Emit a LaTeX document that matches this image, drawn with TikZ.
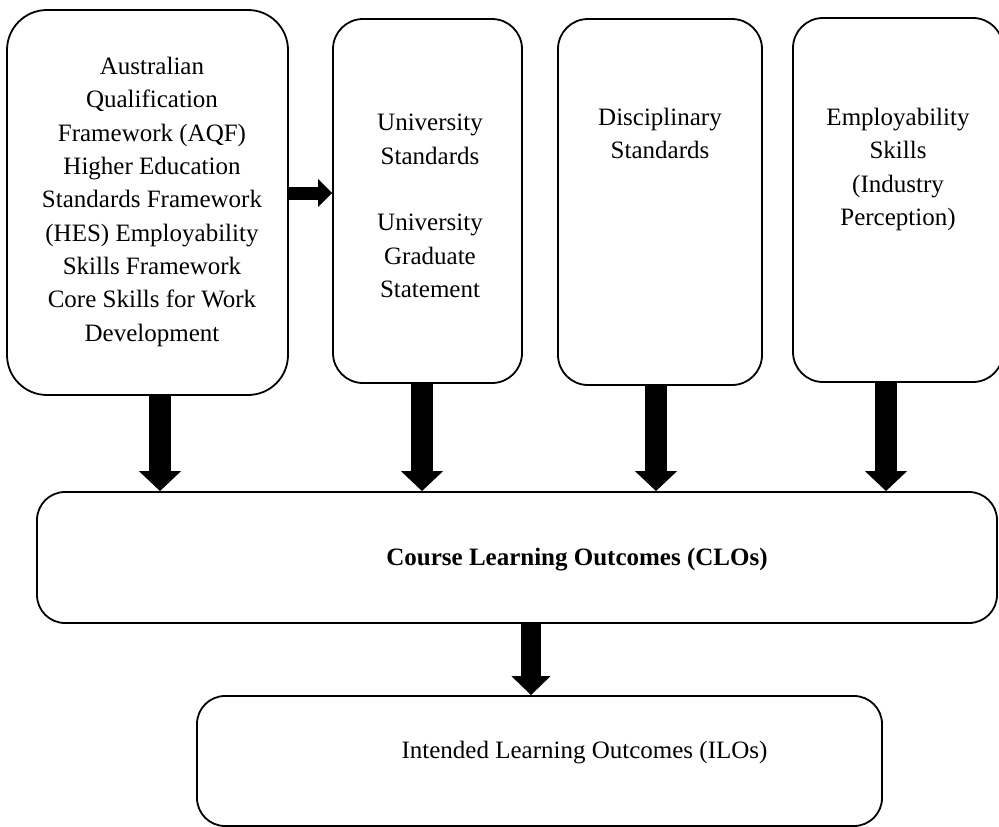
\documentclass[tikz,border=0pt]{standalone}
\usepackage{fontspec}
\setmainfont{Liberation Serif}
\usetikzlibrary{arrows.meta,calc}

\tikzset{
  panel/.style={draw=black, line width=1.8pt, fill=white, inner sep=0pt, rounded corners=30pt},
  lbl/.style={font=\fontsize{25}{33.3}\selectfont, align=center, inner sep=0pt},
  downarrow/.style={line width=22pt, -{Triangle[width=41pt,length=20pt]}},
  smallarrow/.style={line width=20pt, -{Triangle[width=38pt,length=19pt]}},
  sidearrow/.style={line width=13pt, -{Triangle[width=27pt,length=14pt]}}
}

\begin{document}
\begin{tikzpicture}[x=1pt, y=-1pt]
  \useasboundingbox (0,0) rectangle (999,827);
  \fill[white] (0,0) rectangle (999,827);

  % source frameworks along the top
  \node[panel, rounded corners=40pt, minimum width=281pt, minimum height=385pt] (aqf) at (147.5,202.5) {};
  \node[panel, minimum width=189pt, minimum height=364pt] (uni) at (427.5,201) {};
  \node[panel, minimum width=204pt, minimum height=366pt] (disc) at (660,202) {};
  \node[panel, minimum width=210pt, minimum height=364pt] (emp) at (898,200) {};

  % outcome boxes
  \node[panel, rounded corners=28pt, minimum width=960pt, minimum height=131pt] (clo) at (517,557.5) {};
  \node[panel, rounded corners=28pt, minimum width=685pt, minimum height=130pt] (ilo) at (539.5,761) {};

  % box texts
  \node[lbl, anchor=north] (aqftext) at ([xshift=4.5pt,yshift=-48pt]aqf.north)
    {Australian\\Qualification\\Framework (AQF)\\Higher Education\\Standards Framework\\(HES) Employability\\Skills Framework\\Core Skills for Work\\Development};
  \node[lbl, anchor=north] (unitext) at ([xshift=2.5pt,yshift=-96pt]uni.north)
    {University\\Standards\\[33.3pt]University\\Graduate\\Statement};
  \node[lbl, anchor=north] (disctext) at ([yshift=-90pt]disc.north)
    {Disciplinary\\Standards};
  \node[lbl, anchor=north] (emptext) at ([yshift=-91pt]emp.north)
    {Employability\\Skills\\(Industry\\Perception)};
  \node[lbl, anchor=base] (clotext) at ([xshift=60pt,yshift=-7.5pt]clo.center)
    {\textbf{Course Learning Outcomes (CLOs)}};
  \node[lbl, anchor=base] (ilotext) at ([xshift=45pt,yshift=3pt]ilo.center)
    {Intended Learning Outcomes (ILOs)};

  % block arrows
  \draw[sidearrow] ([yshift=9.5pt]aqf.east) -- ([yshift=9.5pt]aqf.east -| uni.west);
  \draw[downarrow] ([xshift=12.5pt]aqf.south) -- ([xshift=12.5pt]aqf.south |- clo.north);
  \draw[downarrow] ([xshift=-5.5pt]uni.south) -- ([xshift=-5.5pt]uni.south |- clo.north);
  \draw[downarrow] ([xshift=-4pt]disc.south) -- ([xshift=-4pt]disc.south |- clo.north);
  \draw[downarrow] ([xshift=-12pt]emp.south) -- ([xshift=-12pt]emp.south |- clo.north);
  \draw[smallarrow] ([xshift=14pt]clo.south) -- ([xshift=14pt]clo.south |- ilo.north);
\end{tikzpicture}
\end{document}
